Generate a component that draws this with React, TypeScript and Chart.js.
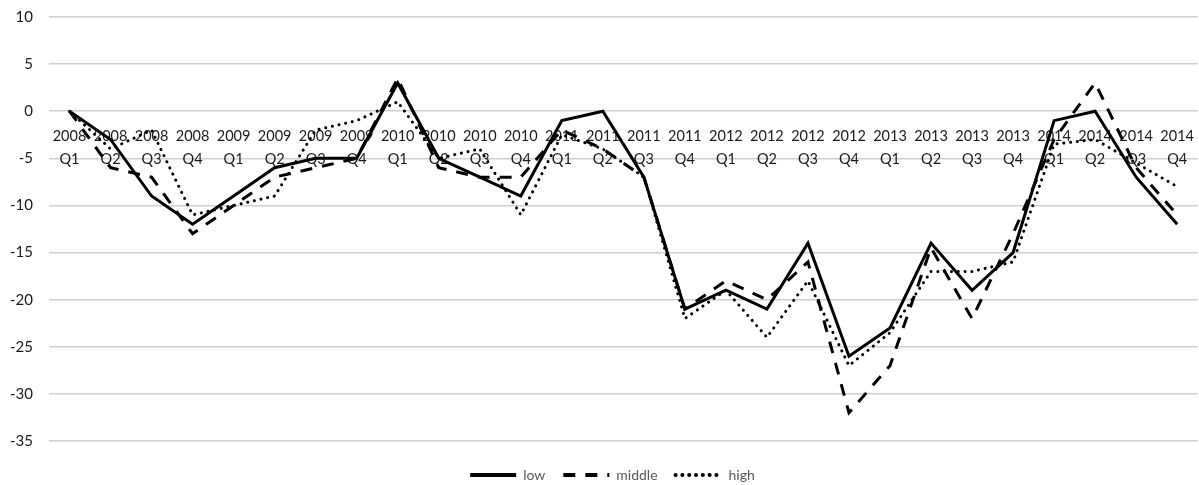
import React, { useEffect, useRef } from "react";
import { Chart, registerables } from "chart.js";

Chart.register(...registerables);

const years = ["2008", "2009", "2010", "2011", "2012", "2013", "2014"];
const quarters = ["Q1", "Q2", "Q3", "Q4"];
const categories: string[][] = years.flatMap((y) => quarters.map((q) => [y, q]));

const low = [0, -3, -9, -12, -9, -6, -5, -5, 3, -5, -7, -9, -1, 0, -7, -21, -19, -21, -14, -26, -23, -14, -19, -15, -1, 0, -7, -12];
const middle = [0, -6, -7, -13, -10, -7, -6, -5, 3.5, -6, -7, -7, -2, -4, -7, -21, -18, -20, -16, -32, -27, -14.5, -22, -13, -3, 3, -6, -11];
const high = [0, -4, -2, -11, -10, -9, -2, -1, 1, -5, -4, -11, -2.5, -4, -7, -22, -19, -24, -18, -27, -23.5, -17, -17, -16, -3.5, -3, -5.5, -8];

const yMin = -35;
const yMax = 10;
const yStep = 5;

const legendShift = {
  id: "legendShift",
  afterLayout(chart: any) {
    const lg = chart.legend;
    if (!lg) return;
    const d = 475 - (lg.top + 18 + 7);
    lg.top += d;
    lg.bottom += d;
    lg.left += 13;
    lg.right += 13;
  },
};

export default function App() {
  const ref = useRef<HTMLCanvasElement | null>(null);

  useEffect(() => {
    document.body.style.margin = "0";
    const canvas = ref.current;
    if (!canvas) return;
    const font = "Lato, 'Open Sans', sans-serif";
    const chart = new Chart(canvas, {
      type: "line",
      plugins: [legendShift],
      data: {
        labels: categories,
        datasets: [
          {
            label: "low",
            data: low,
            borderColor: "#000",
            backgroundColor: "#000",
            borderWidth: 3,
            pointRadius: 0,
            pointStyle: "line",
            tension: 0,
          },
          {
            label: "middle",
            data: middle,
            borderColor: "#000",
            backgroundColor: "#000",
            borderWidth: 3,
            borderDash: [12, 10],
            pointRadius: 0,
            pointStyle: "line",
            tension: 0,
          },
          {
            label: "high",
            data: high,
            borderColor: "#000",
            backgroundColor: "#000",
            borderWidth: 3,
            borderDash: [0.1, 6.7],
            borderCapStyle: "round",
            pointRadius: 0,
            pointStyle: "line",
            tension: 0,
          },
        ],
      },
      options: {
        animation: false,
        responsive: true,
        maintainAspectRatio: false,
        layout: { padding: { top: 17, right: 0, left: 0, bottom: 2 } },
        plugins: {
          tooltip: { enabled: false },
          legend: {
            position: "bottom",
            labels: {
              usePointStyle: true,
              pointStyleWidth: 46,
              padding: 18,
              color: "#595959",
              font: { family: font, size: 14 },
              generateLabels: (c: any) =>
                c.data.datasets.map((ds: any, i: number) => ({
                  text: ds.label,
                  fillStyle: "#000",
                  strokeStyle: "#000",
                  fontColor: "#595959",
                  lineWidth: 4,
                  lineDash: ds.borderDash || [],
                  lineCap: ds.borderCapStyle || "butt",
                  pointStyle: "line",
                  hidden: !c.isDatasetVisible(i),
                  datasetIndex: i,
                })),
            },
          },
        },
        scales: {
          x: {
            type: "category",
            position: { y: 0 } as any,
            offset: true,
            grid: { display: false },
            border: { display: false },
            ticks: {
              autoSkip: false,
              maxRotation: 0,
              minRotation: 0,
              padding: 5,
              color: "#1a1a1a",
              font: { family: font, size: 14.5, lineHeight: 1.62 },
            },
            afterFit: (scale: any) => {
              scale.paddingTop = 0;
              scale.paddingBottom = 0;
            },
          },
          y: {
            min: yMin,
            max: yMax,
            ticks: {
              stepSize: yStep,
              padding: 16,
              color: "#1a1a1a",
              font: { family: font, size: 15 },
            },
            grid: { color: "#d0d0d0", lineWidth: 1.5, drawTicks: false },
            border: { display: false },
            afterFit: (scale: any) => {
              scale.width = 49;
              scale.paddingTop = 0;
              scale.paddingBottom = 0;
            },
          },
        },
      },
    });
    return () => chart.destroy();
  }, []);

  return (
    <div style={{ position: "relative", width: "1199px", height: "485px" }}>
      <canvas ref={ref} />
    </div>
  );
}
